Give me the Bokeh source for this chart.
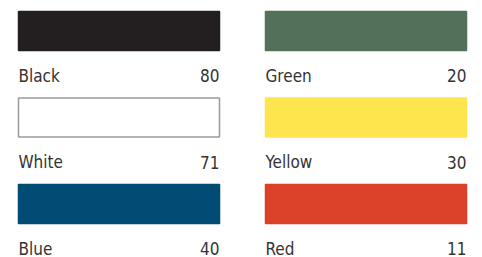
from bokeh.plotting import figure
from bokeh.models import ColumnDataSource, Range1d
from bokeh.core.properties import value
from bokeh.embed import file_html
from bokeh.resources import INLINE

# Data
names = ["Black", "White", "Blue", "Green", "Yellow", "Red"]
values = [80, 71, 40, 20, 30, 11]
colors = ["#231f20", "#ffffff", "#004c74", "#53705a", "#fee54e", "#dc4129"]
borders = ["#231f20", "#9a9a9a", "#004c74", "#53705a", "#fee54e", "#dc4129"]

# Layout (pixels inside the figure)
W, H = 482, 257
col_x0 = [18, 265]
sw_w = 201
row_y0 = [11, 97.5, 184]
sw_h = 39
rows_per_col = 3

left, right, top, bottom = [], [], [], []
lx, rx, by = [], [], []
for i in range(len(names)):
    c, r = i // rows_per_col, i % rows_per_col
    x0 = col_x0[c]
    y0 = row_y0[r]
    left.append(x0)
    right.append(x0 + sw_w)
    top.append(y0)
    bottom.append(y0 + sw_h)
    lx.append(x0)
    rx.append(x0 + sw_w)
    by.append(y0 + 64)

src = ColumnDataSource(dict(
    left=left, right=right, top=top, bottom=bottom,
    color=colors, border=borders,
    lx=lx, rx=rx, by=by,
    name=names, val=[str(v) for v in values],
))

p = figure(width=W, height=H, output_backend="svg", toolbar_location=None,
           x_range=Range1d(0, W), y_range=Range1d(H, 0),
           min_border=0, outline_line_color=None)
p.axis.visible = False
p.grid.visible = False
p.background_fill_color = "white"
p.border_fill_color = "white"

p.quad(left="left", right="right", top="top", bottom="bottom", source=src,
       fill_color="color", line_color="border", line_width=1.5)

font = value("'DejaVu Sans Condensed', 'Roboto Condensed', Roboto")
p.text(x="lx", y="by", text="name", source=src, text_font=font,
       text_font_size="17px", text_color="#333333",
       text_align="left", text_baseline="alphabetic")
p.text(x="rx", y="by", text="val", source=src, text_font=font,
       text_font_size="17px", text_color="#333333",
       text_align="right", text_baseline="alphabetic")

open("out.html", "w").write(file_html(p, INLINE))
